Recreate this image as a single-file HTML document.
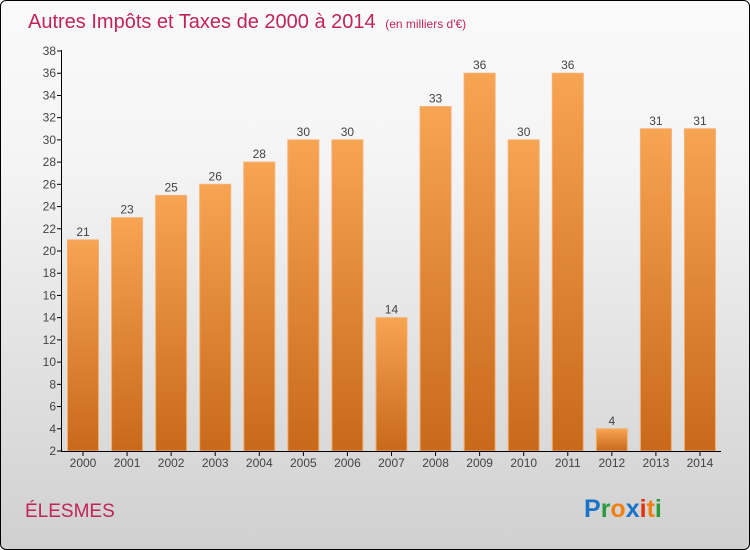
<!DOCTYPE html>
<html><head><meta charset="utf-8"><style>
body{margin:0;width:750px;height:550px;overflow:hidden}
#c{position:absolute;left:0;top:0;width:748px;height:548px;border:1px solid #000;border-radius:6px;background:linear-gradient(#fafafa,#f4f4f4 30%,#d0d0d0);overflow:hidden;font-family:"Liberation Sans",sans-serif}
</style></head><body>
<div id="c">
<svg width="750" height="550" id="svg">
<defs><linearGradient id="g" x1="0" y1="0" x2="0" y2="1"><stop offset="0" stop-color="#f7a453"/><stop offset="1" stop-color="#c8691a"/></linearGradient></defs>
<text x="27" y="27" font-size="20" fill="#c0245a">Autres Impôts et Taxes de 2000 à 2014 <tspan font-size="12" dx="4">(en milliers d'€)</tspan></text>
<text x="24" y="516" font-size="19" fill="#c0245a">ÉLESMES</text>
<text x="583" y="516" font-size="25" font-weight="bold"><tspan fill="#1a73c8">P</tspan><tspan fill="#2a9a3a">r</tspan><tspan fill="#f08010">o</tspan><tspan fill="#1a73c8">x</tspan><tspan fill="#e03010">i</tspan><tspan fill="#f08010">t</tspan><tspan fill="#2a9a3a">i</tspan></text>
<g id="plot"></g>
</svg></div>
<script>
const years=["2000","2001","2002","2003","2004","2005","2006","2007","2008","2009","2010","2011","2012","2013","2014"];
const values=[21,23,25,26,28,30,30,14,33,36,30,36,4,31,31];
const yTicks=[2,4,6,8,10,12,14,16,18,20,22,24,26,28,30,32,34,36,38];
const NS="http://www.w3.org/2000/svg";
const g=document.getElementById('plot');
const y=v=>450-(v-2)*400/36;
const x=i=>82+i*44.07;
function el(t,a){const e=document.createElementNS(NS,t);for(const k in a)e.setAttribute(k,a[k]);g.appendChild(e);return e;}
yTicks.forEach(t=>{
 const l=el('line',{x1:56,x2:61,y1:y(t),y2:y(t),stroke:'#000'});
 
 
 const tx=el('text',{x:55,y:y(t)+4,'font-size':12,'text-anchor':'end',fill:'#444'});tx.textContent=t;
 
 
});
values.forEach((v,i)=>{
 const r=el('rect',{x:x(i)-15.5,y:y(v),width:31,height:450-y(v),fill:'url(#g)',stroke:'#f5b070','stroke-width':1});
 
 
 const t=el('text',{x:x(i),y:y(v)-4,'font-size':12,'text-anchor':'middle',fill:'#444'});t.textContent=v;
 
 
 const tk=el('line',{x1:x(i),x2:x(i),y1:450,y2:455,stroke:'#000'});
 
 
 const xl=el('text',{x:x(i),y:466,'font-size':12,'text-anchor':'middle',fill:'#444'});xl.textContent=years[i];
 
 
});
const ya=el('line',{x1:60.5,x2:60.5,y1:49,y2:450.5,stroke:'#000'});


const xa=el('line',{x1:60,x2:720,y1:450.5,y2:450.5,stroke:'#000'});


</script>
</body></html>
